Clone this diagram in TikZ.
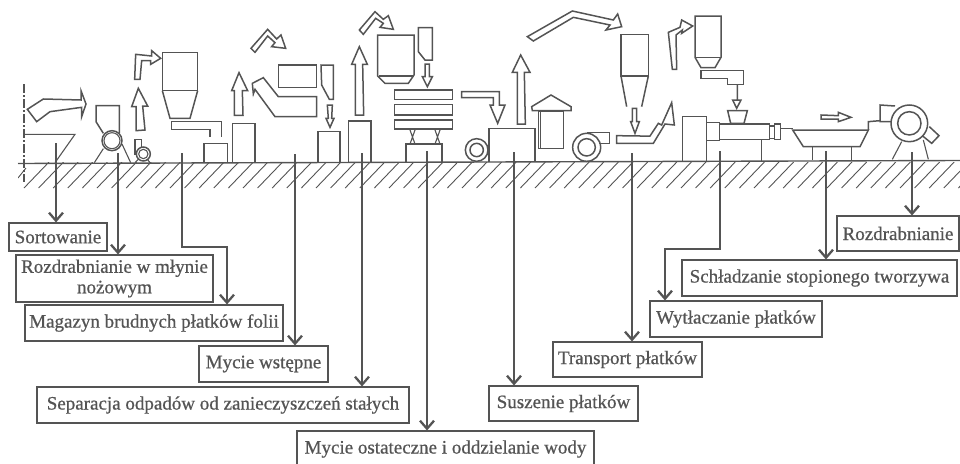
\documentclass[tikz,border=0pt]{standalone}
\usepackage{fontspec}
\newfontfamily\labfont[FakeBold=0.7]{Liberation Serif}
\usetikzlibrary{arrows.meta}
\definecolor{ink}{gray}{0.33}
\tikzset{
  lab/.style={draw=ink,line width=1.1pt,text=ink,fill=white,inner sep=0pt,align=center,font=\labfont\fontsize{19}{20.5}\selectfont},
  eq/.style={draw=ink,line width=1.5pt,line join=miter},
  eqthin/.style={draw=ink,line width=1.1pt},
  conn/.style={draw=ink,line width=1.1pt,-{Straight Barb[length=8pt,width=14pt,line width=2.3pt]}},
  zoneA/.style={x=0.33333pt,y=-0.33333pt},
  zoneB/.style={x=0.33333pt,y=-0.33333pt,xshift=320pt},
  zoneC/.style={x=0.33333pt,y=-0.33333pt,xshift=640pt},
}
\begin{document}
\begin{tikzpicture}[x=1pt,y=-1pt]
\useasboundingbox (0,0) rectangle (960,463);
% ground
\begin{scope}
\clip (18,162) rectangle (960,189);
\foreach \i in {0,...,65}{
  \draw[ink,line width=0.9pt] ({24+14.6*\i},188) -- ({24+14.6*\i+25},162);
}
\draw[ink,line width=0.9pt] (18,178) -- (26,168);
\end{scope}
\draw[ink,line width=1.4pt] (18,163.5) -- (960,160.5);
\draw[ink,line width=1.1pt,dash pattern=on 9pt off 2pt on 2pt off 2pt] (24,84) -- (24,182);
% equipment, left part
\begin{scope}[zoneA]
\draw[eq] (82,328) -- (130,297) -- (243,300) -- (243,272) -- (258,312) -- (245,350) -- (245,322) -- (150,335) -- (110,365) -- cycle;
\draw[eqthin] (72,403) -- (225,403) -- (165,488);
\draw[eq] (310,400) -- (288,365) -- (288,317) -- (358,317) -- (358,400);
\draw[eq] (336,422) circle (30); \draw[eqthin] (336,422) circle (24);
\draw[eqthin] (283,488) -- (310,446) (366,432) -- (392,488);
\draw[eq] (430,462) circle (21); \draw[eqthin] (430,462) circle (14);
\draw[eq] (405,465) -- (405,418) -- (425,418) -- (425,442);
\draw[eqthin] (405,488) -- (415,478) (450,488) -- (442,478);
\draw[eq] (415,265) -- (443,318) -- (428,318) -- (435,390) -- (408,392) -- (408,320) -- (395,320) -- cycle;
\draw[eq] (404,238) -- (407,163) -- (455,168) -- (455,152) -- (482,175) -- (452,193) -- (452,182) -- (425,182) -- (420,238) -- cycle;
\draw[eq] (487,157) rectangle (593,272);
\draw[eq] (487,272) -- (510,355) -- (570,355) -- (593,272);
\draw[eq] (630,410) -- (630,388) -- (515,388) -- (515,365) -- (665,365) -- (665,410);
\draw[eq] (612,488) -- (612,430) -- (683,430) -- (683,488);
\draw[eq] (698,488) -- (698,370) -- (765,370) -- (765,488);
\draw[eq] (717,218) -- (743,272) -- (727,272) -- (729,346) -- (703,346) -- (703,272) -- (695,272) -- cycle;
\draw[eq] (753,145) -- (803,88) -- (830,117) -- (843,105) -- (857,145) -- (815,140) -- (825,128) -- (803,108) -- (765,157) -- cycle;
\draw[eq] (836,195) rectangle (950,263);
\draw[eq] (760,282) -- (757,250) -- (790,233) -- (835,290) -- (950,290) -- (950,350) -- (825,350) -- (765,268) -- cycle;
\end{scope}
% equipment, middle part
\begin{scope}[zoneB]
\draw[eq] (-6,487) -- (-6,395) -- (60,395) -- (60,487);
\draw[eq] (3,195) -- (40,195) -- (40,298) -- (28,298) -- (5,255) -- cycle;
\draw[eq] (22,315) -- (37,315) -- (35,355) -- (42,355) -- (30,382) -- (18,355) -- (25,355) -- cycle;
\draw[eq] (118,140) -- (142,193) -- (128,193) -- (131,345) -- (106,345) -- (106,193) -- (95,193) -- cycle;
\draw[eq] (85,487) -- (85,363) -- (153,363) -- (153,487);
\draw[eq] (118,90) -- (165,35) -- (190,58) -- (205,47) -- (220,88) -- (180,82) -- (190,70) -- (167,55) -- (130,103) -- cycle;
\draw[eq] (173,105) -- (282,105) -- (282,225) -- (265,250) -- (195,250) -- (173,228) -- cycle;
\draw[eqthin] (178,228) -- (282,228);
\draw[eq] (295,83) -- (337,83) -- (337,180) -- (315,180) -- (295,155) -- cycle;
\draw[eq] (315,192) -- (328,192) -- (328,230) -- (337,230) -- (322,260) -- (307,230) -- (315,230) -- cycle;
\draw[eq] (223,270) rectangle (397,298);
\draw[eq] (223,314) rectangle (397,345);
\draw[eq] (223,360) rectangle (397,387);
\draw[eqthin] (270,390) -- (285,432) (285,390) -- (270,432) (345,390) -- (360,432) (360,390) -- (345,432);
\draw[eq] (258,487) -- (258,432) -- (366,432) -- (366,487);
\draw[eq] (425,275) -- (538,275) -- (538,315) -- (555,315) -- (533,370) -- (510,315) -- (520,315) -- (520,293) -- (425,293) -- cycle;
\draw[eq] (602,165) -- (630,217) -- (613,217) -- (616,372) -- (592,372) -- (592,217) -- (577,217) -- cycle;
\draw[eq] (470,450) circle (34); \draw[eq] (470,450) circle (20);
\draw[eq] (507,487) -- (507,385) -- (645,385) -- (645,487);
\draw[eq] (635,320) -- (693,285) -- (753,320) -- (753,332) -- (637,332) -- cycle;
\draw[eq] (655,335) rectangle (730,445); \draw[eq] (661,335) -- (661,445);
\draw[eq] (800,442) circle (42); \draw[eq] (800,442) circle (26);
\draw[eq] (800,398) -- (868,398) -- (868,430) -- (838,430);
\draw[eq] (903,103) rectangle (985,228);
\draw[eq] (903,228) -- (920,320) (985,228) -- (965,320);
\draw[eq] (937,325) -- (950,325) -- (950,365) -- (958,365) -- (945,400) -- (932,365) -- (937,365) -- cycle;
\draw[eq] (622,110) -- (757,33) -- (880,60) -- (893,42) -- (905,80) -- (858,90) -- (870,75) -- (760,52) -- (640,123) -- cycle;
\end{scope}
% equipment, right part
\begin{scope}[zoneC]
\draw[eq] (-70,407) -- (0,408) -- (30,408) -- (55,370) -- (65,375) -- (95,308) -- (103,375) -- (75,372) -- (40,430) -- (-70,430) -- cycle;
\draw[eq] (97,208) -- (85,97) -- (120,82) -- (125,60) -- (158,78) -- (125,100) -- (127,90) -- (108,105) -- (110,208) -- cycle;
\draw[eq] (165,48) -- (243,48) -- (243,172) -- (225,203) -- (183,203) -- (165,172) -- cycle;
\draw[eqthin] (165,172) -- (243,172);
\draw[eq] (183,212) -- (310,212) -- (310,253) -- (263,253) -- (263,235) -- (183,235) -- cycle;
\draw[eq] (292,255) -- (292,300) (278,300) -- (303,300) -- (290,325) -- cycle;
\draw[eq] (263,332) -- (322,332) -- (312,370) -- (272,370) -- cycle;
\draw[eq] (128,482) -- (128,350) -- (200,350) -- (200,482);
\draw[eq] (200,368) rectangle (238,422);
\draw[eq] (238,372) rectangle (388,418);
\draw[eq] (388,378) rectangle (403,415);
\draw[eq] (403,372) rectangle (422,418);
\draw[eq] (422,385) -- (458,385);
\draw[eqthin] (365,418) -- (365,482);
\draw[eq] (458,390) -- (685,390) -- (660,440) -- (490,440) -- cycle;
\draw[eq] (518,440) -- (518,480) (635,440) -- (635,480);
\draw[eq] (543,345) -- (595,347) -- (595,337) -- (633,352) -- (595,365) -- (595,357) -- (543,357) -- cycle;
\draw[eq] (685,390) -- (685,365) -- (720,362);
\draw[eq] (765,318) -- (720,315) -- (720,365) -- (755,365);
\draw[eq] (808,370) circle (55); \draw[eq] (808,370) circle (35);
\draw[eq] (868,380) -- (897,407) -- (875,430) -- (848,408);
\draw[eqthin] (785,425) -- (757,478) (850,420) -- (865,478);
\end{scope}
% labels
\node[lab,minimum width=98pt,minimum height=28pt] (sort) at (58,237) {Sortowanie};
\node[lab,minimum width=197pt,minimum height=47pt] (mlyn) at (114.5,278.5) {Rozdrabnianie w młynie\\nożowym};
\node[lab,minimum width=258pt,minimum height=36pt] (mag) at (154,323) {Magazyn brudnych płatków folii};
\node[lab,minimum width=129pt,minimum height=36pt] (wst) at (263.5,364) {Mycie wstępne};
\node[lab,minimum width=372pt,minimum height=36pt] (sep) at (223,405) {Separacja odpadów od zanieczyszczeń stałych};
\node[lab,minimum width=297pt,minimum height=36pt] (ost) at (445.5,449) {Mycie ostateczne i oddzielanie wody};
\node[lab,minimum width=149pt,minimum height=35pt] (susz) at (563.5,403.5) {Suszenie płatków};
\node[lab,minimum width=149pt,minimum height=35pt] (tran) at (627.5,359.5) {Transport płatków};
\node[lab,minimum width=172pt,minimum height=36pt] (wyt) at (736,319) {Wytłaczanie płatków};
\node[lab,minimum width=275pt,minimum height=36pt] (schl) at (819.5,278) {Schładzanie stopionego tworzywa};
\node[lab,minimum width=122pt,minimum height=35pt] (rozd) at (898,233.5) {Rozdrabnianie};
% connector origins
\coordinate (o1) at (56,143);
\coordinate (o2) at (118,153);
\coordinate (o3) at (182,153);
\coordinate (b3) at (182,247);
\coordinate (o4) at (295,154);
\coordinate (o5) at (362,153);
\coordinate (o6) at (427,151);
\coordinate (o7) at (514,152);
\coordinate (o8) at (632,153);
\coordinate (o9) at (720,151);
\coordinate (b9) at (720,249);
\coordinate (o10) at (826,151);
\coordinate (o11) at (912,152);
\coordinate (t3) at (227,247);
\coordinate (t9) at (665,249);
\draw[conn] (o1) -- (o1 |- sort.north);
\draw[conn] (o2) -- (o2 |- mlyn.north);
\draw[conn] (o3) -- (b3) -- (t3) -- (t3 |- mag.north);
\draw[conn] (o4) -- (o4 |- wst.north);
\draw[conn] (o5) -- (o5 |- sep.north);
\draw[conn] (o6) -- (o6 |- ost.north);
\draw[conn] (o7) -- (o7 |- susz.north);
\draw[conn] (o8) -- (o8 |- tran.north);
\draw[conn] (o9) -- (b9) -- (t9) -- (t9 |- wyt.north);
\draw[conn] (o10) -- (o10 |- schl.north);
\draw[conn] (o11) -- (o11 |- rozd.north);
\end{tikzpicture}
\end{document}
